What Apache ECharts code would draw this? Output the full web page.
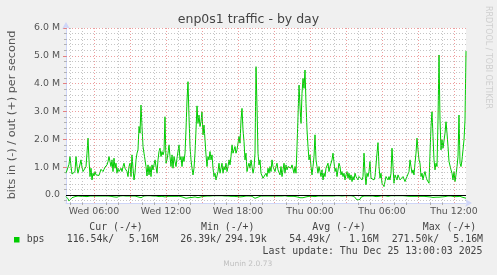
<!DOCTYPE html>
<html><head><meta charset="utf-8">
<script src="https://cdn.jsdelivr.net/npm/echarts@6/dist/echarts.min.js"></script>
<style>html,body{margin:0;padding:0;background:#f0f0f0;}#c{width:497px;height:275px;}</style>
</head><body><div id="c"></div>
<script>
const titleText = 'enp0s1 traffic - by day';
const yAxisTitle = 'bits in (-) / out (+) per second';
const watermark = 'RRDTOOL / TOBI OETIKER';
const footer = 'Munin 2.0.73';
const lastUpdate = 'Last update: Thu Dec 25 13:00:03 2025';
// minutes since Wed 00:00
const startMinute = 220;
const stepMinutes = 5;
const endMinute = 2220;
// out (+) in M bits/s, one sample per 5 minutes
const outValues = [
0.78,0.78,0.84,1.10,1.38,1.02,0.75,0.72,0.72,0.84,
1.38,1.02,0.78,0.84,0.78,1.26,1.00,0.84,0.78,0.78,
1.02,1.50,2.04,1.26,0.66,0.96,0.54,0.78,0.68,0.84,
0.72,0.78,0.75,0.70,0.66,0.92,0.88,0.84,0.92,1.00,
1.02,1.08,1.20,1.38,1.32,1.02,1.26,0.84,1.32,0.96,
1.14,0.78,0.96,0.84,0.88,0.96,0.84,1.02,1.14,0.96,
1.02,0.84,0.66,1.02,1.14,0.66,1.44,0.96,0.54,0.78,
1.26,1.50,1.62,2.46,2.22,3.23,2.46,1.74,1.50,1.26,
1.02,0.68,1.08,0.72,1.02,0.66,1.08,0.90,0.96,1.26,
1.20,0.78,1.26,1.56,1.68,1.38,1.56,1.44,1.56,2.81,
1.14,1.26,1.50,1.80,1.38,1.02,1.44,0.96,1.38,1.20,
1.02,1.32,1.38,1.80,1.26,1.38,1.02,1.38,1.20,1.50,
2.34,3.41,4.07,2.81,1.74,1.26,0.96,0.72,0.96,1.50,
2.34,3.20,2.57,2.87,2.46,2.63,2.99,2.16,2.51,1.98,
1.44,1.02,1.38,1.26,1.56,1.26,1.44,0.96,0.66,0.78,
0.54,0.60,0.84,1.14,0.78,0.96,1.14,0.78,1.02,0.90,
1.14,0.84,1.02,1.26,1.08,1.38,1.80,1.50,1.62,1.74,
1.50,1.62,1.68,2.10,1.86,2.69,3.11,2.34,1.92,1.26,
1.50,0.84,1.02,1.14,0.96,1.26,1.02,0.78,0.96,1.50,
4.61,3.17,1.50,1.08,1.26,0.78,0.84,0.60,0.66,0.54,
0.78,0.66,0.96,0.78,1.02,0.84,1.26,1.02,1.08,0.84,
1.02,1.14,0.90,0.84,0.72,1.02,0.66,0.90,1.14,0.78,
1.08,0.90,1.02,0.96,1.08,0.96,1.08,1.02,0.78,1.02,
0.78,1.74,2.81,
3.95,3.17,2.57,3.65,4.19,3.83,4.49,3.29,2.34,1.74,
1.26,1.44,1.02,0.72,1.02,1.38,2.16,1.26,1.02,0.78,
1.02,0.84,0.66,0.90,0.54,0.78,0.66,0.96,1.02,1.14,
0.84,1.02,1.14,1.26,1.50,1.56,0.84,0.96,0.66,0.72,
1.14,1.02,0.72,0.84,0.66,0.78,0.54,0.72,0.84,0.60,
0.78,0.54,0.72,0.48,0.66,0.54,0.78,0.66,0.72,0.54,
0.66,0.60,0.72,0.54,0.66,1.50,0.78,
0.36,0.78,0.66,0.84,1.20,0.60,0.66,0.54,0.54,0.66,0.72,1.50,
1.88,1.02,0.60,0.78,0.42,0.48,0.30,0.48,0.66,0.72,
0.54,0.66,0.54,0.78,1.68,1.02,0.42,0.72,0.66,0.54,
0.72,0.66,0.54,0.48,0.54,0.66,0.60,0.48,0.42,0.66,
0.72,0.84,1.26,1.02,0.78,0.90,0.72,1.14,1.50,2.04,
1.62,1.26,1.14,0.66,0.78,0.54,0.72,0.84,0.66,0.54,
0.48,0.42,1.50,2.46,2.99,2.10,1.26,0.90,1.14,1.02,
2.69,
5.03,2.69,1.62,1.98,1.68,1.74,2.22,2.63,2.22,1.74,
1.20,1.14,0.90,0.78,0.54,0.84,0.48,0.72,1.02,1.38,
2.87,1.14,1.02,1.26,1.62,1.98,2.69,5.17
];
// in (-) in M bits/s
const inValues = [
-0.06,-0.08,-0.14,-0.22,-0.27,-0.20,-0.10,-0.07,-0.06,-0.06,
-0.05,-0.05,-0.04,-0.05,-0.04,-0.05,-0.04,-0.04,-0.05,-0.04,
-0.05,-0.06,-0.05,-0.04,-0.04,-0.05,-0.04,-0.04,-0.04,-0.03,
-0.04,-0.03,-0.04,-0.04,-0.03,-0.04,-0.04,-0.03,-0.04,-0.04,
-0.04,-0.05,-0.04,-0.05,-0.06,-0.05,-0.04,-0.05,-0.07,-0.09,
-0.10,-0.08,-0.06,-0.05,-0.04,-0.04,-0.04,-0.03,-0.04,-0.04,
-0.04,-0.03,-0.04,-0.04,-0.03,-0.04,-0.04,-0.04,-0.03,-0.04,
-0.05,-0.06,-0.07,-0.08,-0.09,-0.10,-0.07,-0.05,-0.04,-0.04,
-0.04,-0.03,-0.04,-0.04,-0.03,-0.04,-0.04,-0.04,-0.05,-0.04,
-0.04,-0.05,-0.05,-0.06,-0.05,-0.06,-0.05,-0.06,-0.08,-0.07,
-0.06,-0.05,-0.05,-0.06,-0.05,-0.05,-0.06,-0.05,-0.05,-0.04,
-0.05,-0.05,-0.05,-0.06,-0.05,-0.06,-0.07,-0.08,-0.09,-0.10,
-0.12,-0.14,-0.13,-0.10,-0.09,-0.12,-0.09,-0.07,-0.06,-0.07,
-0.09,-0.11,-0.10,-0.08,-0.09,-0.07,-0.08,-0.06,-0.05,-0.05,
-0.05,-0.04,-0.04,-0.05,-0.04,-0.04,-0.03,-0.03,-0.04,-0.03,
-0.03,-0.03,-0.04,-0.03,-0.03,-0.04,-0.03,-0.03,-0.04,-0.04,
-0.04,-0.03,-0.04,-0.04,-0.05,-0.05,-0.06,-0.05,-0.05,-0.06,
-0.05,-0.06,-0.06,-0.07,-0.07,-0.08,-0.07,-0.06,-0.05,-0.05,
-0.04,-0.04,-0.05,-0.04,-0.04,-0.05,-0.05,-0.06,-0.08,-0.12,
-0.18,-0.14,-0.08,-0.05,-0.04,-0.04,-0.03,-0.03,-0.04,-0.03,
-0.03,-0.04,-0.03,-0.03,-0.04,-0.03,-0.03,-0.04,-0.04,-0.03,
-0.04,-0.04,-0.03,-0.04,-0.04,-0.03,-0.04,-0.04,-0.04,-0.03,
-0.04,-0.04,-0.05,-0.04,-0.04,-0.05,-0.04,-0.04,-0.05,-0.05,
-0.06,-0.07,-0.08,-0.09,-0.10,-0.08,-0.09,-0.10,-0.09,-0.08,
-0.07,-0.06,-0.05,-0.05,-0.05,-0.06,-0.05,-0.06,-0.08,-0.06,
-0.05,-0.04,-0.04,-0.04,-0.03,-0.04,-0.03,-0.03,-0.04,-0.03,
-0.03,-0.04,-0.04,-0.03,-0.04,-0.04,-0.05,-0.04,-0.04,-0.03,
-0.03,-0.03,-0.04,-0.03,-0.03,-0.03,-0.04,-0.03,-0.03,-0.03,
-0.03,-0.04,-0.03,-0.03,-0.04,-0.03,-0.03,-0.04,-0.05,-0.06,
-0.10,-0.18,-0.24,-0.25,-0.16,-0.08,-0.05,-0.04,-0.04,-0.03,
-0.03,-0.04,-0.03,-0.03,-0.04,-0.03,-0.04,-0.04,-0.04,-0.05,
-0.06,-0.07,-0.06,-0.05,-0.04,-0.04,-0.03,-0.03,-0.04,-0.03,
-0.04,-0.04,-0.05,-0.04,-0.04,-0.03,-0.04,-0.04,-0.03,-0.04,
-0.03,-0.03,-0.04,-0.03,-0.03,-0.04,-0.03,-0.03,-0.04,-0.04,
-0.04,-0.05,-0.04,-0.05,-0.04,-0.05,-0.05,-0.06,-0.05,-0.05,
-0.06,-0.05,-0.05,-0.04,-0.04,-0.05,-0.04,-0.04,-0.05,-0.04,
-0.05,-0.06,-0.07,-0.08,-0.07,-0.08,-0.10,-0.09,-0.08,-0.07,
-0.08,-0.09,-0.10,-0.08,-0.07,-0.06,-0.07,-0.08,-0.07,-0.06,
-0.05,-0.05,-0.04,-0.04,-0.05,-0.04,-0.05,-0.05,-0.06,-0.05,
-0.05,-0.06,-0.07,-0.06,-0.05,-0.06,-0.07,-0.09,-0.11,-0.12,
-0.117
];
const yLabelValues = [0, 1, 2, 3, 4, 5, 6];
const xLabelValues = [360, 720, 1080, 1440, 1800, 2160];
const xLabelTexts = ['Wed 06:00', 'Wed 12:00', 'Wed 18:00', 'Thu 00:00', 'Thu 06:00', 'Thu 12:00'];
const legendHeaders = ['Cur (-/+)', 'Min (-/+)', 'Avg (-/+)', 'Max (-/+)'];
const legendName = 'bps';
const legendValues = ['116.54k/', '5.16M', '26.39k/', '294.19k', '54.49k/', '1.16M', '271.50k/', '5.16M'];

const yMin = -0.29, yMax = 6;
// grid helpers
const yMajor = [1, 2, 3, 4, 5, 6];
const yMinor = [];
for (let k = -1; k <= 29; k++) { if (k % 5 !== 0) yMinor.push(+(k * 0.2).toFixed(1)); }
const xMajor = [], xMinor = [];
for (let m = 240; m < endMinute; m += 60) { if (m % 180 === 0) xMajor.push(m); else xMinor.push(m); }

const outData = outValues.map((v, i) => [startMinute + i * stepMinutes, v]);
const inData = inValues.map((v, i) => [startMinute + i * stepMinutes, v]);

const minorStyle = { color: 'rgba(150,150,150,0.55)', width: 1, type: [1, 2] };
const majorStyle = { color: 'rgba(222,79,79,0.55)', width: 1, type: [1, 2] };
const gridLines = [];
yMinor.forEach(v => gridLines.push({ yAxis: v, lineStyle: minorStyle }));
xMinor.forEach(v => gridLines.push({ xAxis: v, lineStyle: minorStyle }));
yMajor.forEach(v => gridLines.push({ yAxis: v, lineStyle: majorStyle }));
xMajor.forEach(v => gridLines.push({ xAxis: v, lineStyle: majorStyle }));
gridLines.push({ yAxis: 0, lineStyle: { color: '#000', width: 1, type: 'solid' } });

const mono = 'DejaVu Sans Mono';
const legendColor = '#444';
const graphics = [
  { type: 'text', x: 248.5, y: 19.5, style: { text: titleText, textAlign: 'center', textVerticalAlign: 'middle', font: '12.5px "DejaVu Sans"', fill: '#444' } },
  { type: 'text', x: 12, y: 115, rotation: Math.PI / 2, style: { text: yAxisTitle, textAlign: 'center', textVerticalAlign: 'middle', font: '11.3px "DejaVu Sans"', fill: '#555' } },
  { type: 'text', x: 488.5, y: 57.5, rotation: -Math.PI / 2, style: { text: watermark, textAlign: 'center', textVerticalAlign: 'middle', font: '8px "DejaVu Sans"', fill: '#cfcfcf' } },
  { type: 'text', x: 247.7, y: 264, style: { text: footer, textAlign: 'center', textVerticalAlign: 'middle', font: '7.5px "DejaVu Sans"', fill: '#c0c0c0' } },
  { type: 'text', x: 482.5, y: 251, style: { text: lastUpdate, textAlign: 'right', textVerticalAlign: 'middle', font: '9.9px "' + mono + '"', fill: legendColor } },
  { type: 'rect', shape: { x: 14, y: 237, width: 5.5, height: 5.5 }, style: { fill: '#00cc00' } },
  { type: 'text', x: 26.7, y: 239.5, style: { text: legendName, textAlign: 'left', textVerticalAlign: 'middle', font: '9.9px "' + mono + '"', fill: legendColor } }
];
const headerX = [89.3, 201, 312.3, 422.7];
legendHeaders.forEach((t, i) => graphics.push({ type: 'text', x: headerX[i], y: 227.7, style: { text: t, textAlign: 'left', textVerticalAlign: 'middle', font: '9.9px "' + mono + '"', fill: legendColor } }));
const valueX = [66.7, 128.7, 180.3, 225, 289.3, 349, 391.7, 453.3];
legendValues.forEach((t, i) => graphics.push({ type: 'text', x: valueX[i], y: 239.5, style: { text: t, textAlign: 'left', textVerticalAlign: 'middle', font: '9.9px "' + mono + '"', fill: legendColor } }));

const chart = echarts.init(document.getElementById('c'));
chart.setOption({
  animation: false,
  backgroundColor: '#f0f0f0',
  grid: { left: 66, top: 28, width: 400, height: 175, show: true, backgroundColor: '#ffffff', borderWidth: 0 },
  xAxis: [{
    type: 'value', min: startMinute, max: endMinute,
    axisLine: { show: true, onZero: false, lineStyle: { color: '#cfd6f8', width: 1 }, symbol: ['none', 'arrow'], symbolSize: [6, 7], symbolOffset: [0, 6] },
    axisTick: { show: true, customValues: xMinor, length: 2, lineStyle: { color: 'rgba(150,150,150,0.7)' } },
    axisLabel: { customValues: xLabelValues, formatter: v => xLabelTexts[xLabelValues.indexOf(v)], color: '#555', fontFamily: 'DejaVu Sans', fontSize: 9.4, margin: 4 },
    splitLine: { show: false }
  }, {
    type: 'value', min: startMinute, max: endMinute, position: 'bottom',
    axisLine: { show: false },
    axisTick: { show: true, customValues: xMajor, length: 3, lineStyle: { color: 'rgba(222,79,79,0.7)' } },
    axisLabel: { show: false }, splitLine: { show: false }
  }],
  yAxis: [{
    type: 'value', min: yMin, max: yMax,
    axisLine: { show: true, onZero: false, lineStyle: { color: '#cfd6f8', width: 1 }, symbol: ['none', 'arrow'], symbolSize: [6, 7], symbolOffset: [0, 6] },
    axisTick: { show: true, customValues: yMinor, length: 2, lineStyle: { color: 'rgba(150,150,150,0.7)' } },
    axisLabel: { customValues: yLabelValues, formatter: v => v === 0 ? '0.0' : v.toFixed(1) + ' M', color: '#555', fontFamily: 'DejaVu Sans', fontSize: 9.4, margin: 6 },
    splitLine: { show: false }
  }, {
    type: 'value', min: yMin, max: yMax, position: 'left',
    axisLine: { show: false },
    axisTick: { show: true, customValues: yMajor, length: 3, lineStyle: { color: 'rgba(222,79,79,0.7)' } },
    axisLabel: { show: false }, splitLine: { show: false }
  }],
  series: [
    { name: 'grid', type: 'line', data: [], z: 1, silent: true,
      markLine: { silent: true, symbol: ['none', 'none'], label: { show: false }, animation: false, data: gridLines } },
    { name: 'in', type: 'line', data: inData, showSymbol: false, symbol: 'none', z: 3, sampling: null,
      lineStyle: { color: '#00cc00', width: 1 } },
    { name: 'out', type: 'line', data: outData, showSymbol: false, symbol: 'none', z: 3,
      lineStyle: { color: '#00cc00', width: 1 } }
  ],
  graphic: graphics
});
</script></body></html>
